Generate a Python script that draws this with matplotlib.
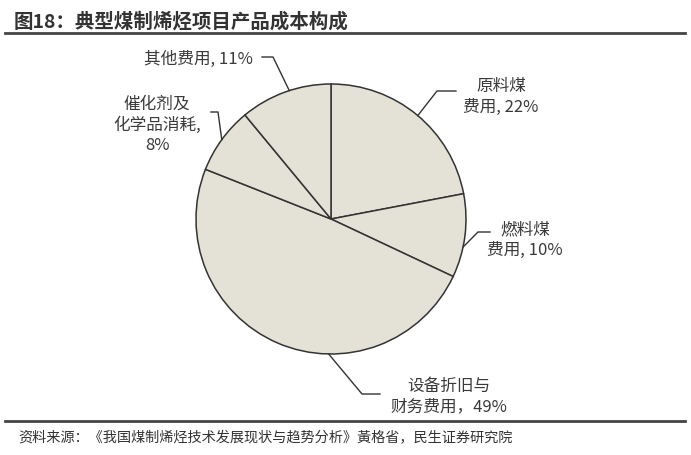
import numpy as np
import matplotlib.pyplot as plt

plt.rcParams['font.family'] = ['Noto Sans CJK SC', 'DejaVu Sans']

labels = ['原料煤\n费用, 22%', '燃料煤\n费用, 10%', '设备折旧与\n财务费用，49%',
          '催化剂及\n化学品消耗,\n8%', '其他费用, 11%']
shares = [22, 10, 49, 8, 11]

title = '图18：典型煤制烯烃项目产品成本构成'
source = '资料来源：《我国煤制烯烃技术发展现状与趋势分析》黃格省，民生证券研究院'

W, H = 691, 456
cx, cy, R = 331, 220, 135

fig = plt.figure(figsize=(W / 100, H / 100), dpi=100)
ax = fig.add_axes([(cx - R) / W, (H - cy - R) / H, 2 * R / W, 2 * R / H])

wedges, _ = ax.pie(shares, startangle=90, counterclock=False, radius=1,
                   colors=['#e4e2d6'] * len(shares),
                   wedgeprops=dict(edgecolor='#333333', linewidth=1.1))
ax.set_xlim(-1, 1)
ax.set_ylim(-1, 1)
ax.set_aspect('equal')
ax.axis('off')


def to_data(px, py):
    return (px - cx) / R, (cy - py) / R


# leader lines: start angle on rim, elbow point, end point, text centre (pixels)
leaders = [
    (50, (437, 92), (456, 92), (501, 97)),
    (-12, (478, 233), (490, 233), (525, 240)),
    (-91, (362, 395), (380, 395), (449, 397)),
    (144, (218, 113), (211, 113), (157, 125)),
    (108, (273, 58), (262, 58), (198, 59)),
]

for lab, (ang, elbow, end, tpos) in zip(labels, leaders):
    a = np.deg2rad(ang)
    x0, y0 = np.cos(a), np.sin(a)
    ex, ey = to_data(*elbow)
    fx, fy = to_data(*end)
    ax.plot([x0, ex, fx], [y0, ey, fy], color='#333333', lw=1.0, clip_on=False)
    tx, ty = to_data(*tpos)
    ax.text(tx, ty, lab, ha='center', va='center', fontsize=12, color='#3a3a3a',
            linespacing=1.25, multialignment='center')

fig.text(14 / W, 1 - 22 / H, title, ha='left', va='center', fontsize=14,
         fontweight='bold', color='#333333')
fig.add_artist(plt.Line2D([5 / W, 685 / W], [1 - 34 / H, 1 - 34 / H],
                          color='#444444', lw=2))
fig.add_artist(plt.Line2D([5 / W, 685 / W], [1 - 422 / H, 1 - 422 / H],
                          color='#444444', lw=2))
fig.text(18 / W, 1 - 438 / H, source, ha='left', va='center', fontsize=10.2,
         color='#333333')

fig.savefig('out.png', dpi=100, facecolor='white')
